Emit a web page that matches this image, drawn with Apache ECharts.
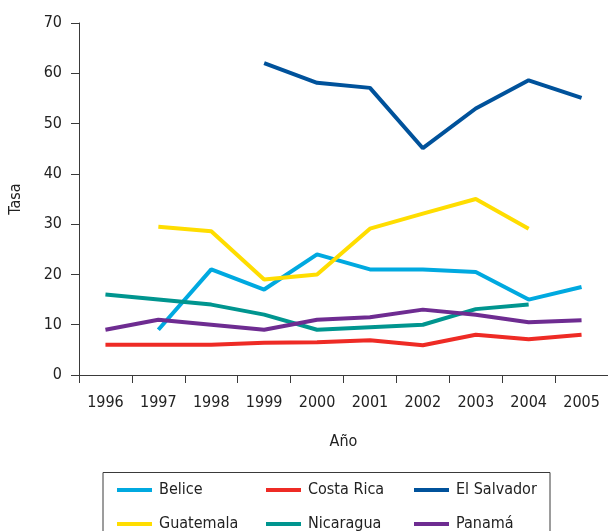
<!DOCTYPE html>
<html>
<head>
<meta charset="utf-8">
<script src="https://cdn.jsdelivr.net/npm/echarts@6/dist/echarts.min.js"></script>
<style>
  html, body { margin: 0; padding: 0; background: #fff; }
  #chart { width: 608px; height: 531px; }
</style>
</head>
<body>
<div id="chart"></div>
<script>
// años (eje x)
const years = ["1996", "1997", "1998", "1999", "2000", "2001", "2002", "2003", "2004", "2005"];

// tasas por país (null = sin dato)
const belice = [null, 9, 21, 17, 24, 21, 21, 20.5, 15, 17.5];
const costaRica = [6, 6, 6, 6.4, 6.5, 6.9, 5.9, 8, 7.1, 8];
const elSalvador = [null, null, null, 62, 58.1, 57.1, 45.1, 53, 58.6, 55.1];
const guatemala = [null, 29.5, 28.6, 19, 20, 29.1, 32.1, 35, 29.1, null];
const nicaragua = [16, 15, 14, 12, 9, 9.5, 10, 13.1, 14, null];
const panama = [9, 11, 10, 9, 11, 11.5, 13, 12, 10.5, 10.9];

const font = "'Liberation Sans Narrow', 'DejaVu Sans Condensed', sans-serif";
const axisColor = "#3a3a3a";
const textColor = "#222";

const chart = echarts.init(document.getElementById("chart"), null, { renderer: "canvas" });

const makeSeries = (name, data, color) => ({
  name: name,
  type: "line",
  data: data,
  symbol: "none",
  lineStyle: { width: 4, color: color },
  itemStyle: { color: color },
});

// una leyenda por columna, para alinear como el original
const legendBase = {
  orient: "vertical",
  itemWidth: 35,
  itemHeight: 4,
  itemGap: 18,
  icon: "rect",
  padding: 0,
  top: 482,
  height: 80,
  textStyle: { fontFamily: font, fontSize: 16, color: textColor, padding: [0, 0, 0, 2] },
};

chart.setOption({
  backgroundColor: "#fff",
  animation: false,
  textStyle: { fontFamily: font },
  grid: { left: 79, top: 23, width: 530, height: 352 },
  xAxis: {
    type: "category",
    data: years,
    boundaryGap: true,
    name: "Año",
    nameLocation: "middle",
    nameGap: 59,
    nameTextStyle: { fontFamily: font, fontSize: 16, color: textColor },
    axisLine: { lineStyle: { color: axisColor, width: 1 } },
    axisTick: { show: true, length: 8, lineStyle: { color: axisColor } },
    axisLabel: { margin: 20, fontFamily: font, fontSize: 16, color: textColor },
    splitLine: { show: false },
  },
  yAxis: {
    type: "value",
    min: 0,
    max: 70,
    interval: 10,
    name: "Tasa",
    nameLocation: "middle",
    nameGap: 55,
    nameTextStyle: { fontFamily: font, fontSize: 16, color: textColor },
    axisLine: { show: true, lineStyle: { color: axisColor, width: 1 } },
    axisTick: { show: true, length: 8, lineStyle: { color: axisColor } },
    axisLabel: { margin: 17, fontFamily: font, fontSize: 16, color: textColor },
    splitLine: { show: false },
  },
  legend: [
    Object.assign({}, legendBase, { left: 117, data: ["Belice", "Guatemala"] }),
    Object.assign({}, legendBase, { left: 266, data: ["Costa Rica", "Nicaragua"] }),
    Object.assign({}, legendBase, { left: 414, data: ["El Salvador", "Panamá"] }),
  ],
  graphic: [
    {
      type: "rect",
      shape: { x: 103, y: 472.5, width: 447, height: 80 },
      style: { fill: "none", stroke: axisColor, lineWidth: 1 },
      silent: true,
    },
  ],
  series: [
    makeSeries("Belice", belice, "#00a9e0"),
    makeSeries("Costa Rica", costaRica, "#ee2b25"),
    makeSeries("El Salvador", elSalvador, "#00529b"),
    makeSeries("Guatemala", guatemala, "#ffdd00"),
    makeSeries("Nicaragua", nicaragua, "#00958f"),
    makeSeries("Panamá", panama, "#6e2c91"),
  ],
});
</script>
</body>
</html>
